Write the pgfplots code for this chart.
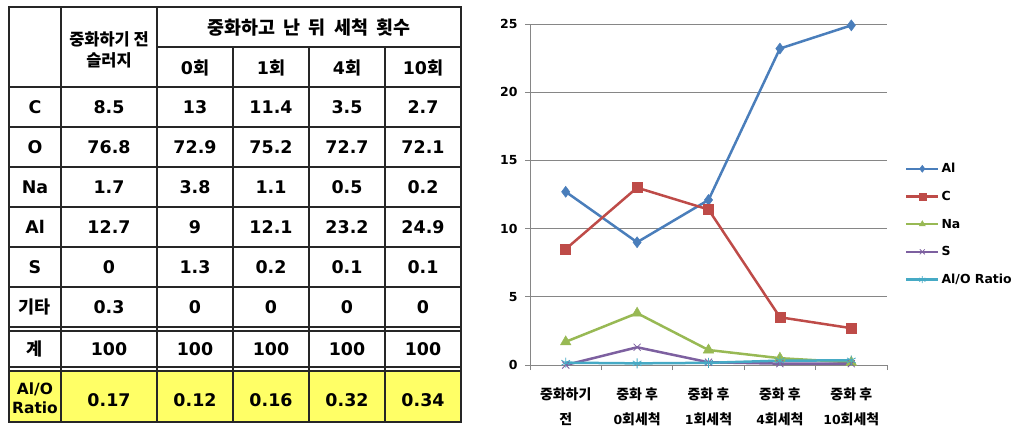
\documentclass[border=0pt]{standalone}
\usepackage{fontspec}
\setmainfont{DejaVu Sans}
\newfontfamily\krfont{Noto Sans CJK KR}
\usepackage{pgfplots}
\pgfplotsset{compat=1.18}
\definecolor{cAl}{HTML}{4A7EBB}
\definecolor{cC}{HTML}{BE4B48}
\definecolor{cNa}{HTML}{98B954}
\definecolor{cS}{HTML}{7D60A0}
\definecolor{cR}{HTML}{46AAC5}
\definecolor{axgray}{HTML}{868686}
\definecolor{tabyellow}{HTML}{FFFF66}
\pgfplotstableread{
x Al C Na S Ratio
0 12.7 8.5 1.7 0 0.17
1 9 13 3.8 1.3 0.12
2 12.1 11.4 1.1 0.2 0.16
3 23.2 3.5 0.5 0.1 0.32
4 24.9 2.7 0.2 0.1 0.34
}\chartdata
\newcommand{\tf}{\fontsize{17.5}{21}\selectfont\bfseries}
\newcommand{\cf}{\fontsize{12.5}{25}\selectfont\bfseries}
\newcommand{\kr}[1]{{\krfont\bfseries #1}}
\newcommand{\krc}[1]{{\fontsize{14}{25}\selectfont\krfont\bfseries #1}}
\begin{document}
\begin{tikzpicture}
\useasboundingbox (0,0) rectangle (1030bp,-447bp);
\begin{scope}[x=1bp,y=-1bp]
  \fill[tabyellow] (9,371) rectangle (461,422);
  \begin{scope}[line width=1.4bp, draw=black!85]
    \draw (9,7) rectangle (461,422);
    \foreach \yy in {87,127,167,207,247,287,327,331,367,371} {\draw (9,\yy) -- (461,\yy);}
    \draw (157,47) -- (461,47);
    \foreach \xx in {61,157} {\draw (\xx,7) -- (\xx,422);}
    \foreach \xx in {233,309,385} {\draw (\xx,47) -- (\xx,422);}
  \end{scope}
  \node[font=\fontsize{16.5}{21}\selectfont, align=center] at (109,50) {\kr{중화하기 전}\\\kr{슬러지}};
  \node[font=\fontsize{18.5}{21}\selectfont] at (309,28) {\kr{중화하고\ \ 난\ \ 뒤\ \ 세척\ \ 횟수}};
  \foreach \lab/\xx in {0/195,1/271,4/347,10/423}
    {\node[font=\tf] at (\xx,68) {\lab\kr{회}};}
  % row labels
  \foreach \lab/\yy in {C/107,O/147,Na/187,Al/227,S/267}
    {\node[font=\tf] at (35,\yy) {\lab};}
  \node[font=\tf] at (35,307) {\kr{기타}};
  \node[font=\tf] at (35,349) {\kr{계}};
  \node[font=\fontsize{15.5}{18}\selectfont\bfseries, align=center, inner sep=0pt] at (35,398) {Al/O\\[1bp]Ratio};
  % values
  \foreach \a/\b/\c/\d/\e/\yy in {
      8.5/13/11.4/3.5/2.7/107,
      76.8/72.9/75.2/72.7/72.1/147,
      1.7/3.8/1.1/0.5/0.2/187,
      12.7/9/12.1/23.2/24.9/227,
      0/1.3/0.2/0.1/0.1/267,
      0.3/0/0/0/0/307,
      100/100/100/100/100/349,
      0.17/0.12/0.16/0.32/0.34/400}
  {
    \node[font=\tf] at (109,\yy) {\a};
    \node[font=\tf] at (195,\yy) {\b};
    \node[font=\tf] at (271,\yy) {\c};
    \node[font=\tf] at (347,\yy) {\d};
    \node[font=\tf] at (423,\yy) {\e};
  }
\end{scope}
\begin{axis}[
  at={(530bp,-365bp)}, anchor=south west,
  width=357bp, height=341bp, scale only axis,
  xmin=-0.5, xmax=4.5, ymin=0, ymax=25,
  axis x line*=bottom, axis y line*=left,
  axis line style={draw=axgray, line width=0.8bp},
  ytick={0,5,...,25},
  ymajorgrids, grid style={draw=axgray, line width=0.8bp},
  xtick={-0.5,0.5,1.5,2.5,3.5,4.5}, xticklabels={},
  extra x ticks={0,1,2,3,4},
  extra x tick labels={{\krc{중화하기}\\\krc{전}},{\krc{중화 후}\\0\krc{회세척}},{\krc{중화 후}\\1\krc{회세척}},{\krc{중화 후}\\4\krc{회세척}},{\krc{중화 후}\\10\krc{회세척}}},
  extra x tick style={major tick length=0pt, grid=none,
     xticklabel style={font=\cf, align=center, yshift=-19bp}},
  tick align=outside, major tick length=5bp,
  tick style={draw=axgray, line width=0.8bp},
  yticklabel style={font=\cf, xshift=-4bp},
  /pgf/number format/assume math mode=true,
  legend style={at={(1.05,0.598)}, anchor=north west, draw=none, fill=none,
     font=\cf, row sep=13bp, legend cell align=left, inner sep=0pt,
     /tikz/every even column/.append style={column sep=1bp}},
  legend image code/.code={%
     \pgfsetlinewidth{2.5bp}%
     \draw[line width=2.5bp, line cap=butt] (0bp,0bp) -- (32bp,0bp);
     \draw[mark size=3.5bp] plot coordinates {(16bp,0bp)};},
  clip=false,
]
\addplot[color=cAl, line width=2.5bp, mark=diamond*, mark size=5.5bp, mark options={solid, fill=cAl, line width=0.5bp}] table[x=x,y=Al] {\chartdata};
\addlegendentry{Al}
\addplot[color=cC, line width=2.5bp, mark=square*, mark size=5bp, mark options={solid, fill=cC, line width=0.5bp}] table[x=x,y=C] {\chartdata};
\addlegendentry{C}
\addplot[color=cNa, line width=2.5bp, mark=triangle*, mark size=6bp, mark options={solid, fill=cNa, line width=0.5bp}] table[x=x,y=Na] {\chartdata};
\addlegendentry{Na}
\addplot[color=cS, line width=2.5bp, mark=x, mark size=5bp, mark options={solid, line width=0.8bp}] table[x=x,y=S] {\chartdata};
\addlegendentry{S}
\addplot[color=cR, line width=2.5bp, mark=asterisk, mark size=5bp, mark options={solid, line width=0.8bp}] table[x=x,y=Ratio] {\chartdata};
\addlegendentry{Al/O Ratio}
\end{axis}
\end{tikzpicture}
\end{document}
